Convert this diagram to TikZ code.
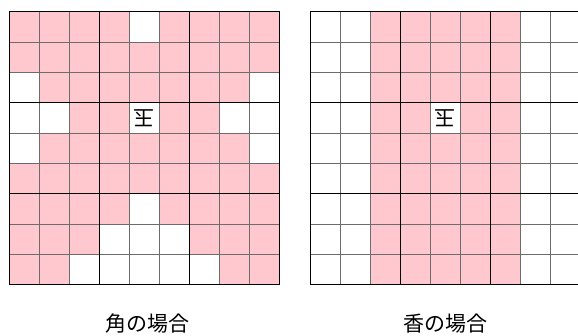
\documentclass[tikz,border=0pt]{standalone}
\usepackage{fontspec}
\newfontfamily\jp{Noto Sans CJK JP}
\newfontfamily\jpbold{Noto Sans CJK JP Bold}
\definecolor{pinkfill}{HTML}{FFC7CE}
\begin{document}
\begin{tikzpicture}[x=1pt,y=-1pt,
  thinline/.style={draw=gray!85!black,line width=0.6pt},
  boldline/.style={draw=black,line width=1pt},
  kingtext/.style={font=\jp\fontsize{21}{21}\selectfont,rotate=180,inner sep=0pt},
  captext/.style={font=\jp\fontsize{21}{21}\selectfont}]
\clip (0,0) rectangle (578,336);
\fill[white] (0,0) rectangle (578,336);
% ---- left board (bishop) ----
\begin{scope}[shift={(9,12)}]
  \fill[pinkfill] (0,0) rectangle (270,273);
  \foreach \c/\r in {5/1,1/3,9/3,1/4,2/4,5/4,8/4,9/4,1/5,9/5,5/7,4/8,5/8,6/8,3/9,4/9,5/9,6/9,7/9}
    \fill[white] ({(\c-1)*30},{(\r-1)*30.333}) rectangle ++(30,30.333);
  \foreach \i in {1,2,4,5,7,8} {
    \draw[thinline] (\i*30,0) -- (\i*30,273);
    \draw[thinline] (0,\i*30.333) -- (270,\i*30.333);
  }
  \foreach \i in {3,6} {
    \draw[boldline] (\i*30,0) -- (\i*30,273);
    \draw[boldline] (0,\i*30.333) -- (270,\i*30.333);
  }
  \draw[boldline] (0,0) rectangle (270,273);
  \node[kingtext] (kingL) at (135,106.2) {玉};
\end{scope}
% ---- right board (lance) ----
\begin{scope}[shift={(310,12)}]
  \fill[pinkfill] (60,0) rectangle (210,273);
  \fill[white] (120,91) rectangle (150,121.33);
  \foreach \i in {1,2,4,5,7,8} {
    \draw[thinline] (\i*30,0) -- (\i*30,273);
    \draw[thinline] (0,\i*30.333) -- (270,\i*30.333);
  }
  \foreach \i in {3,6} {
    \draw[boldline] (\i*30,0) -- (\i*30,273);
    \draw[boldline] (0,\i*30.333) -- (270,\i*30.333);
  }
  \draw[boldline] (0,0) rectangle (270,273);
  \node[kingtext] (kingR) at (135,106.2) {玉};
\end{scope}
% ---- captions ----
\node[captext] (capL) at (147,324) {角の場合};
\node[captext] (capR) at (445,324) {香の場合};
\end{tikzpicture}
\end{document}
